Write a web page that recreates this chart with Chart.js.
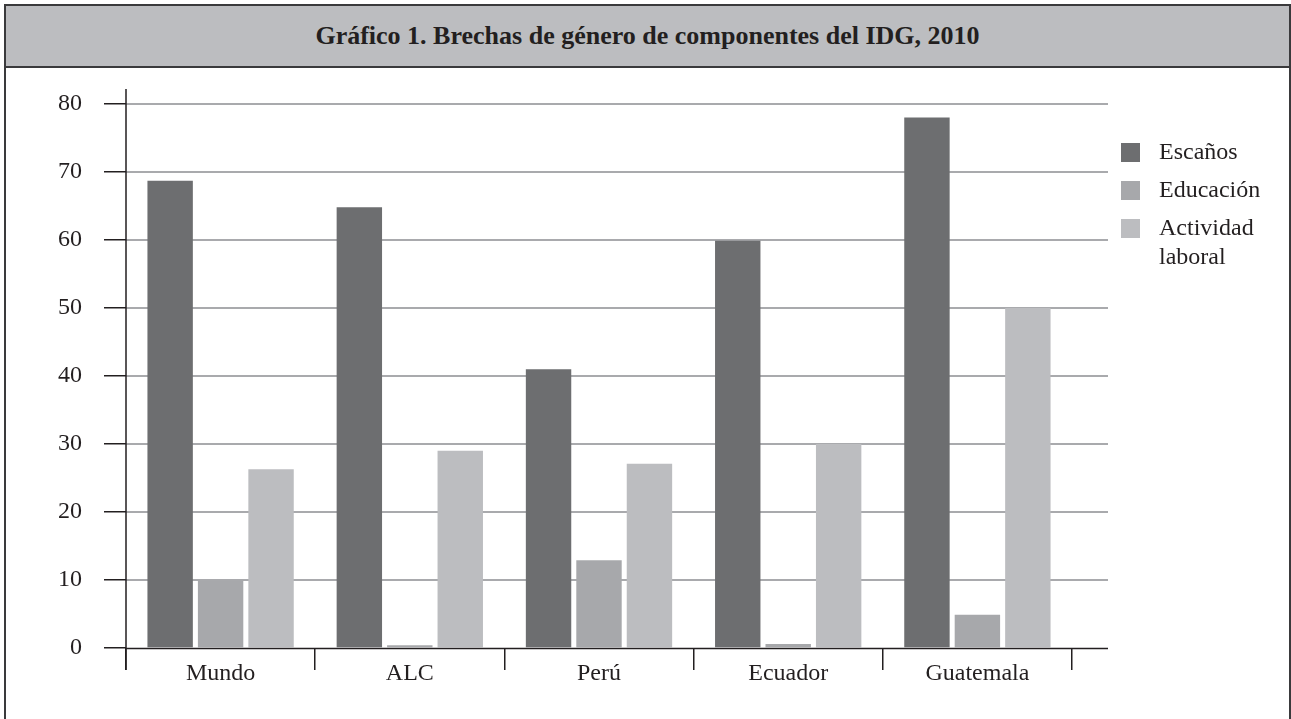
<!DOCTYPE html>
<html lang="es">
<head>
<meta charset="UTF-8">
<title>Brechas de género de componentes del IDG, 2010</title>
<script src="https://cdn.jsdelivr.net/npm/chart.js@4.4.0/dist/chart.umd.min.js"></script>
<style>
    body {
        margin: 0;
        background: #fff;
        width: 1291px;
        height: 719px;
        overflow: hidden;
        position: relative;
        font-family: "Liberation Serif", serif;
        color: #231f20;
    }
    .frame {
        position: absolute;
        left: 4px;
        top: 4px;
        width: 1283px;
        height: 760px;
        border: 2px solid #3a3a3c;
    }
    .header {
        height: 60px;
        background: #bcbdc0;
        border-bottom: 2px solid #3a3a3c;
        text-align: center;
        line-height: 60px;
        font-weight: bold;
        font-size: 26px;
    }
    #chart {
        position: absolute;
        left: 0;
        top: 0;
    }
    .legend {
        position: absolute;
        left: 1121px;
        top: 137px;
        font-size: 24px;
    }
    .legend .item {
        position: relative;
        padding-left: 38px;
        line-height: 29px;
        margin-bottom: 9px;
    }
    .legend .box {
        position: absolute;
        left: 0;
        top: 6px;
        width: 19px;
        height: 19px;
    }
</style>
</head>
<body>
<div class="frame">
    <div class="header">Gráfico 1. Brechas de género de componentes del IDG, 2010</div>
</div>
<canvas id="chart" width="1291" height="719"></canvas>
<div class="legend" id="legend"></div>

<script>
    const categories = ['Mundo', 'ALC', 'Perú', 'Ecuador', 'Guatemala'];
    const seriesNames = ['Escaños', 'Educación', 'Actividad laboral'];
    const escanos = [68.7, 64.8, 41.0, 59.9, 78.0];
    const educacion = [9.9, 0.4, 12.9, 0.6, 4.9];
    const actividad = [26.3, 29.0, 27.1, 30.0, 50.0];
    const yTicks = [0, 10, 20, 30, 40, 50, 60, 70, 80];
    const colors = ['#6d6e70', '#a7a8ab', '#bcbdc0'];

    const ink = '#231f20';
    const gridColor = '#a9aaad';
    const font = { family: '"Liberation Serif", serif', size: 24 };

    // legend (Actividad laboral wraps on two lines)
    const legend = document.getElementById('legend');
    seriesNames.forEach((name, i) => {
        const item = document.createElement('div');
        item.className = 'item';
        item.innerHTML = '<span class="box" style="background:' + colors[i] + '"></span>' +
            (i === 2 ? 'Actividad<br>laboral' : name);
        legend.appendChild(item);
    });

    // gridlines run past the last category, axis lines poke out a bit
    const extraLines = {
        id: 'extraLines',
        beforeDatasetsDraw(chart) {
            const { ctx, chartArea, scales } = chart;
            ctx.save();
            ctx.strokeStyle = gridColor;
            ctx.lineWidth = 2;
            yTicks.forEach(v => {
                if (v === 0) return;
                const y = Math.round(scales.y.getPixelForValue(v));
                ctx.beginPath();
                ctx.moveTo(chartArea.left, y);
                ctx.lineTo(chartArea.right + 36, y);
                ctx.stroke();
            });
            ctx.restore();
        },
        afterDatasetsDraw(chart) {
            const { ctx, chartArea, scales } = chart;
            const y0 = Math.round(scales.y.getPixelForValue(0)) + 0.5;
            ctx.save();
            ctx.strokeStyle = ink;
            ctx.lineWidth = 1.5;
            ctx.beginPath();
            ctx.moveTo(chartArea.left, y0);
            ctx.lineTo(chartArea.right + 36, y0);
            ctx.moveTo(chartArea.left, chartArea.top - 15);
            ctx.lineTo(chartArea.left, chartArea.bottom + 22);
            ctx.stroke();
            ctx.restore();
        }
    };

    new Chart(document.getElementById('chart'), {
        type: 'bar',
        data: {
            labels: categories,
            datasets: [
                { label: seriesNames[0], data: escanos, backgroundColor: colors[0] },
                { label: seriesNames[1], data: educacion, backgroundColor: colors[1] },
                { label: seriesNames[2], data: actividad, backgroundColor: colors[2] }
            ]
        },
        options: {
            responsive: false,
            animation: false,
            categoryPercentage: 0.8,
            barPercentage: 0.9,
            layout: { padding: { left: 0, top: 104, right: 219, bottom: 0 } },
            plugins: {
                legend: { display: false },
                tooltip: { enabled: false }
            },
            scales: {
                x: {
                    offset: true,
                    afterFit: s => { s.height = 71; },
                    grid: {
                        offset: true,
                        drawOnChartArea: false,
                        drawTicks: true,
                        tickLength: 22,
                        color: ink,
                        lineWidth: 1.5
                    },
                    border: { display: false },
                    ticks: { color: ink, font: font, padding: -11 }
                },
                y: {
                    min: 0,
                    max: 80,
                    afterFit: s => { s.width = 126; },
                    afterBuildTicks: s => { s.ticks = yTicks.map(v => ({ value: v })); },
                    grid: {
                        drawOnChartArea: false,
                        drawTicks: true,
                        tickLength: 22,
                        color: ink,
                        lineWidth: 1.5
                    },
                    border: { display: false },
                    ticks: { color: ink, font: font, padding: 22 }
                }
            }
        },
        plugins: [extraLines]
    });
</script>
</body>
</html>
